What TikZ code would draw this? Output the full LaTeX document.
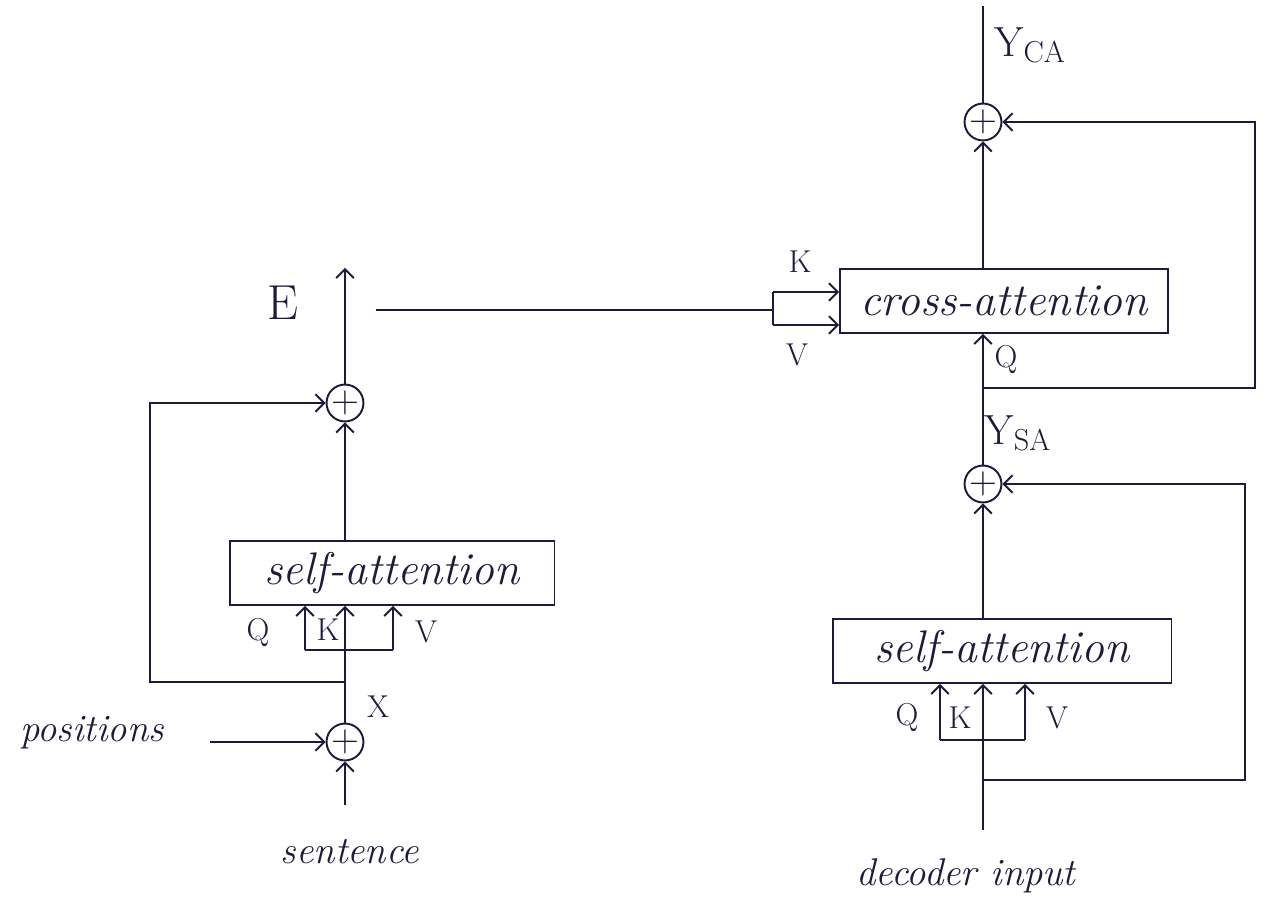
\documentclass[tikz,border=0pt]{standalone}
\usepackage{tikz}
\usetikzlibrary{arrows.meta, calc}
\definecolor{ink}{HTML}{1C1C3A}

\begin{document}
\begin{tikzpicture}[
        x=0.02cm, y=-0.02cm,
        line width=1.1pt, color=ink,
        box/.style={draw, minimum width=#1, minimum height=1.28cm,
            inner sep=0pt, font=\fontsize{26}{30}\selectfont\itshape},
        box/.default=6.5cm,
        plus/.style={draw, circle, minimum size=0.7cm, inner sep=0pt,
            font=\fontsize{22}{22}\selectfont},
        hand/.style={font=\fontsize{22}{26}\selectfont\itshape},
        lbl/.style={font=\fontsize{18}{20}\selectfont},
        arr/.style={-{Straight Barb[length=5pt, width=10pt]}},
    ]
    \fill[white] (0,0) rectangle (1269,908);
    \useasboundingbox (0,0) rectangle (1269,908);

    % =============================================
    % ENCODER
    % =============================================
    \node[hand] (sent) at (350,852) {sentence};
    \node[plus] (px)   at (345,742) {+};
    \node[hand, anchor=base] (pos) at (92,742) {positions};
    \node[box=6.5cm] (sae) at (392,573) {self-attention};
    \node[plus] (pe)   at (345,403) {+};

    \coordinate (sbot)   at (345,805);
    \coordinate (pstart) at (210,742);
    \coordinate (eres)   at (345,682);
    \coordinate (eq)     at (305,650);
    \coordinate (ev)     at (393,650);
    \coordinate (etop)   at (345,268);

    \draw[arr] (sbot) -- (px.south);
    \draw[arr] (pstart) -- (px.west);
    \node[lbl] (lx) at (378,707) {X};

    % Q, K, V into self-attention
    \draw[arr] (px.north) -- (px |- sae.south);
    \draw (eq) -- (ev);
    \draw[arr] (eq) -- (eq |- sae.south);
    \draw[arr] (ev) -- (ev |- sae.south);
    \node[lbl] (leq) at (258,633) {Q};
    \node[lbl] (lek) at (328,630) {K};
    \node[lbl] (lev) at (426,632) {V};

    % residual
    \draw[arr] (eres) -- ++(-195,0) |- (pe.west);
    \draw[arr] (sae.north -| pe) -- (pe.south);
    \draw[arr] (pe.north) -- (etop);
    \node[font=\fontsize{28}{30}\selectfont] (le) at (283,303) {E};

    % =============================================
    % CROSS-ATTENTION
    % =============================================
    \node[box=6.56cm] (ca) at (1004,301) {cross-attention};
    \node[plus] (pc) at (983,122) {+};

    \coordinate (efrom) at (376,310);
    \coordinate (kv)    at (773,310);
    \coordinate (ck)    at (773,292);
    \coordinate (cv)    at (773,325);
    \coordinate (ctop)  at (983,6);

    \draw (efrom) -- (kv);
    \draw (ck) -- (cv);
    \draw[arr] (ck) -- (ck -| ca.west);
    \draw[arr] (cv) -- (cv -| ca.west);
    \node[lbl] (lck) at (800,262) {K};
    \node[lbl] (lcv) at (797,355) {V};

    \draw[arr] (ca.north -| pc) -- (pc.south);
    \draw (pc.north) -- (ctop);
    \node[font=\fontsize{24}{26}\selectfont] (lyca) at (1030,45) {Y$_{\mathrm{CA}}$};

    % =============================================
    % DECODER
    % =============================================
    \node[hand] (dec) at (966,876) {decoder input};
    \node[box=6.78cm] (sad) at (1002,651) {self-attention};
    \node[plus] (ps) at (983,484) {+};

    \coordinate (dbot) at (983,830);
    \coordinate (dres) at (983,780);
    \coordinate (dq)   at (940,740);
    \coordinate (dv)   at (1025,740);
    \coordinate (cres) at (983,388);

    \draw[arr] (dbot) -- (dbot |- sad.south);
    \draw (dq) -- (dv);
    \draw[arr] (dq) -- (dq |- sad.south);
    \draw[arr] (dv) -- (dv |- sad.south);
    \node[lbl] (ldq) at (907,718)  {Q};
    \node[lbl] (ldk) at (960,718)  {K};
    \node[lbl] (ldv) at (1057,718) {V};

    % residuals
    \draw[arr] (dres) -- ++(262,0) |- (ps.east);
    \draw[arr] (sad.north -| ps) -- (ps.south);
    \draw[arr] (ps.north) -- (ps |- ca.south);
    \node[lbl] (lcq) at (1006,360) {Q};
    \node[font=\fontsize{24}{26}\selectfont] (lysa) at (1018,433) {Y$_{\mathrm{SA}}$};
    \draw[arr] (cres) -- ++(272,0) |- (pc.east);

\end{tikzpicture}
\end{document}
